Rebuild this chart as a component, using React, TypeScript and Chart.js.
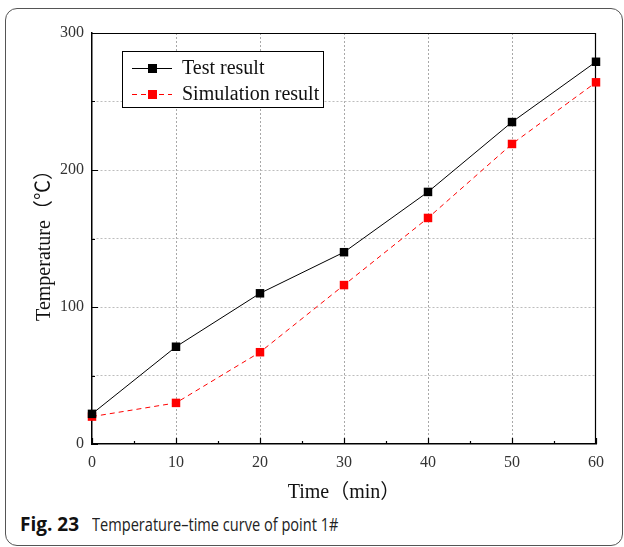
import React, { useEffect, useRef } from "react";
import { Chart, registerables } from "chart.js";

Chart.register(...registerables);

const times = [0, 10, 20, 30, 40, 50, 60];
const testResult = [22, 71, 110, 140, 184, 235, 279];
const simulationResult = [20, 30, 67, 116, 165, 219, 264];
const seriesNames = ["Test result", "Simulation result"];
const xTitle = "Time（min）";
const yTitle = "Temperature（℃）";
const captionBold = "Fig. 23";
const captionText = "Temperature–time curve of point 1#";

const SERIF = "'Liberation Serif', 'Times New Roman', 'Noto Sans CJK SC', serif";

const customPlugin = {
  id: "custom",
  beforeDatasetsDraw(chart: any) {
    const { ctx, chartArea } = chart;
    const xs = chart.scales.x;
    const ys = chart.scales.y;
    ctx.save();
    ctx.strokeStyle = "#000";
    ctx.lineWidth = 1.2;
    // frame top and right
    ctx.beginPath();
    ctx.moveTo(chartArea.left, chartArea.top + 0.5);
    ctx.lineTo(chartArea.right, chartArea.top + 0.5);
    ctx.moveTo(chartArea.right - 0.5, chartArea.top);
    ctx.lineTo(chartArea.right - 0.5, chartArea.bottom);
    ctx.stroke();
    // inward ticks
    ctx.lineWidth = 1.2;
    ctx.beginPath();
    for (let v = 0; v <= 60; v += 5) {
      const px = Math.round(xs.getPixelForValue(v)) + 0.5;
      const len = v % 10 === 0 ? 6 : 3;
      ctx.moveTo(px, chartArea.bottom);
      ctx.lineTo(px, chartArea.bottom - len);
    }
    for (let v = 0; v <= 300; v += 50) {
      const py = Math.round(ys.getPixelForValue(v)) + 0.5;
      const len = v % 100 === 0 ? 6 : 3;
      ctx.moveTo(chartArea.left, py);
      ctx.lineTo(chartArea.left + len, py);
    }
    ctx.stroke();
    ctx.restore();
  },
  afterDraw(chart: any) {
    const { ctx, chartArea } = chart;
    ctx.save();
    // axis titles
    ctx.fillStyle = "#111";
    ctx.font = `20px ${SERIF}`;
    ctx.textAlign = "center";
    ctx.textBaseline = "middle";
    ctx.fillText(xTitle, (chartArea.left + chartArea.right) / 2, 493);
    ctx.save();
    ctx.translate(45, (chartArea.top + chartArea.bottom) / 2 + 2);
    ctx.rotate(-Math.PI / 2);
    ctx.fillText(yTitle, 0, 0);
    ctx.restore();

    // legend
    const bx = 122.5, by = 51.5, bw = 201, bh = 56;
    ctx.fillStyle = "#fff";
    ctx.fillRect(bx, by, bw, bh);
    ctx.strokeStyle = "#000";
    ctx.lineWidth = 1;
    ctx.strokeRect(bx, by, bw, bh);
    const rows = [68, 94];
    chart.data.datasets.forEach((ds: any, i: number) => {
      const y = rows[i];
      ctx.strokeStyle = ds.borderColor;
      ctx.lineWidth = 1;
      ctx.setLineDash(ds.borderDash || []);
      ctx.beginPath();
      ctx.moveTo(132, y + 0.5);
      ctx.lineTo(172, y + 0.5);
      ctx.stroke();
      ctx.setLineDash([]);
      ctx.fillStyle = ds.pointBackgroundColor;
      ctx.fillRect(148, y - 4, 9, 9);
      ctx.fillStyle = "#111";
      ctx.font = `20px ${SERIF}`;
      ctx.textAlign = "left";
      ctx.textBaseline = "middle";
      ctx.fillText(ds.label, 182, y + 1);
    });
    ctx.restore();
  },
};

export default function App() {
  const canvasRef = useRef<HTMLCanvasElement | null>(null);

  useEffect(() => {
    if (!canvasRef.current) return;
    const chart = new Chart(canvasRef.current, {
      type: "line",
      data: {
        datasets: [
          {
            label: seriesNames[0],
            data: times.map((t, i) => ({ x: t, y: testResult[i] })),
            borderColor: "#000",
            backgroundColor: "#000",
            pointBackgroundColor: "#000",
            pointBorderColor: "#000",
            borderWidth: 1,
            pointStyle: "rect",
            pointRadius: 6,
            pointBorderWidth: 0,
            clip: false,
          },
          {
            label: seriesNames[1],
            data: times.map((t, i) => ({ x: t, y: simulationResult[i] })),
            borderColor: "#ff0000",
            backgroundColor: "#ff0000",
            pointBackgroundColor: "#ff0000",
            pointBorderColor: "#ff0000",
            borderWidth: 1,
            borderDash: [5, 4],
            pointStyle: "rect",
            pointRadius: 6,
            pointBorderWidth: 0,
            clip: false,
          },
        ],
      } as any,
      options: {
        animation: false,
        responsive: false,
        layout: { padding: { top: 33, right: 28, left: 0, bottom: 0 } },
        plugins: { legend: { display: false }, tooltip: { enabled: false } },
        scales: {
          x: {
            type: "linear",
            min: 0,
            max: 60,
            afterFit: (s: any) => {
              s.height = 66;
            },
            ticks: {
              stepSize: 5,
              autoSkip: false,
              maxRotation: 0,
              padding: 9,
              color: "#333",
              font: { family: SERIF, size: 16 },
              callback: (v: any) => (Number(v) % 10 === 0 ? String(v) : ""),
            },
            grid: {
              drawTicks: false,
              lineWidth: 1,
              color: (c: any) =>
                c.tick && c.tick.value % 10 === 0 && c.tick.value !== 0 && c.tick.value !== 60
                  ? "#a8a8a8"
                  : "rgba(0,0,0,0)",
            },
            border: { display: true, color: "#000", width: 1.5, dash: [2, 2] },
          },
          y: {
            type: "linear",
            min: 0,
            max: 300,
            afterFit: (s: any) => {
              s.width = 92;
            },
            ticks: {
              stepSize: 50,
              autoSkip: false,
              padding: 8,
              color: "#333",
              font: { family: SERIF, size: 16 },
              callback: (v: any) => (Number(v) % 100 === 0 ? String(v) : ""),
            },
            grid: {
              drawTicks: false,
              lineWidth: 1,
              color: (c: any) =>
                c.tick && c.tick.value !== 0 && c.tick.value !== 300 ? "#bdbdbd" : "rgba(0,0,0,0)",
            },
            border: { display: true, color: "#000", width: 1.5, dash: [2, 2] },
          },
        },
      } as any,
      plugins: [customPlugin],
    });
    return () => chart.destroy();
  }, []);

  return (
    <div
      style={{
        position: "fixed",
        left: 0,
        top: 0,
        width: 624,
        height: 547,
        background: "#fff",
        overflow: "hidden",
      }}
    >
      <div
        style={{
          position: "absolute",
          left: 5,
          top: 8,
          width: 616,
          height: 536,
          border: "1px solid #555",
          borderRadius: 12,
        }}
      />
      <canvas
        ref={canvasRef}
        width={624}
        height={510}
        style={{ position: "absolute", left: 0, top: 0, width: 624, height: 510 }}
      />
      <div
        style={{
          position: "absolute",
          left: 20,
          top: 512,
          whiteSpace: "nowrap",
          fontFamily: "'Open Sans', 'Noto Sans', sans-serif",
          lineHeight: "24px",
          color: "#222",
        }}
      >
        <span style={{ fontWeight: 700, color: "#111", fontSize: 19 }}>{captionBold}</span>
        <span
          style={{
            display: "inline-block",
            marginLeft: 13,
            fontSize: 18,
            transform: "scaleX(0.81)",
            transformOrigin: "left center",
          }}
        >
          {captionText}
        </span>
      </div>
    </div>
  );
}
